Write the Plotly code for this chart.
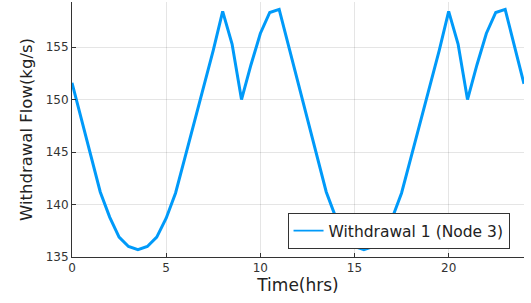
import plotly.graph_objects as go

time_hrs = [i * 0.5 for i in range(49)]
withdrawal_1 = [
    151.6, 148.1, 144.6, 141.2, 138.8, 136.9, 136.0, 135.7,
    136.0, 136.9, 138.7, 141.1, 144.5, 147.9, 151.2, 154.7,
    158.4, 155.3, 150.0, 153.3, 156.3, 158.3, 158.6, 155.1,
    151.6, 148.1, 144.6, 141.2, 138.8, 136.9, 136.0, 135.7,
    136.0, 136.9, 138.7, 141.1, 144.5, 147.9, 151.2, 154.7,
    158.4, 155.3, 150.0, 153.3, 156.3, 158.3, 158.6, 155.1,
    151.5,
]
x_ticks = [0, 5, 10, 15, 20]
y_ticks = [135, 140, 145, 150, 155]
series_name = "Withdrawal 1 (Node 3)"
series_color = "#009AF9"

fig = go.Figure()
fig.add_trace(go.Scatter(
    x=time_hrs, y=withdrawal_1, mode="lines", name=series_name,
    line=dict(color=series_color, width=3), showlegend=False,
    legendgroup="w1",
))
# legend entry drawn with a thinner sample line, as in the reference
fig.add_trace(go.Scatter(
    x=[None], y=[None], mode="lines", name=series_name,
    line=dict(color=series_color, width=1.8), legendgroup="w1",
))

axis_common = dict(
    showline=True, linecolor="#333333", linewidth=1,
    ticks="inside", ticklen=4, tickcolor="#333333",
    showgrid=True, gridcolor="rgba(0,0,0,0.1)", gridwidth=0.5,
    zeroline=False, mirror=False, automargin=False,
    tickfont=dict(family="DejaVu Sans", size=12, color="#333333"),
)

fig.update_layout(
    width=531, height=303,
    margin=dict(l=72, r=7, t=2, b=46),
    paper_bgcolor="white", plot_bgcolor="white",
    showlegend=True,
    legend=dict(
        x=0.968, y=0.031, xanchor="right", yanchor="bottom",
        bgcolor="white", bordercolor="#333333", borderwidth=1,
        itemwidth=30,
        font=dict(family="DejaVu Sans", size=15.5, color="#222222"),
    ),
    xaxis=dict(
        range=[0, 24], tickvals=x_ticks,
        title=dict(text="Time(hrs)", font=dict(family="DejaVu Sans", size=17, color="#222222"), standoff=2),
        **axis_common,
    ),
    yaxis=dict(
        range=[135.0, 159.3], tickvals=y_ticks,
        title=dict(text="Withdrawal Flow(kg/s)", font=dict(family="DejaVu Sans", size=16.5, color="#222222"), standoff=8),
        **axis_common,
    ),
)

fig.write_html(
    "out.html",
    config={"displayModeBar": False},
    post_script="document.body.style.margin='0';document.body.style.overflow='hidden';",
)
